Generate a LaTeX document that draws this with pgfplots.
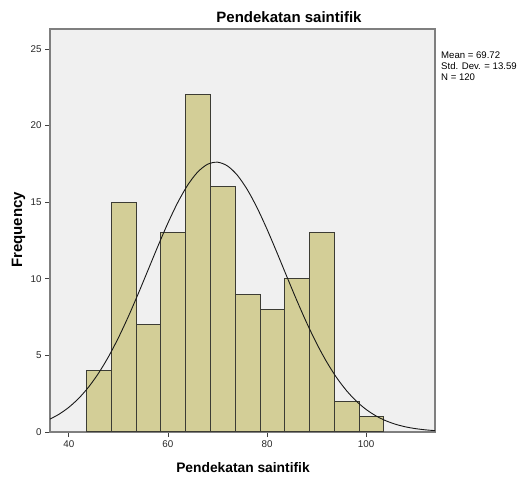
\documentclass[border=0pt]{standalone}
\usepackage{fontspec}
\setmainfont{Liberation Sans}
\usepackage{pgfplots}
\pgfplotsset{compat=1.18}

\definecolor{bgc}{HTML}{F0F0F0}
\definecolor{barc}{HTML}{D3CE97}
\definecolor{edgec}{HTML}{3C3C34}
\definecolor{framec}{HTML}{7F7F7F}

\begin{document}
\begin{tikzpicture}[x=1pt,y=1pt]
\path[use as bounding box] (0,0) rectangle (521,478);
\begin{axis}[
    at={(50pt,46pt)}, anchor=south west,
    scale only axis,
    width=385pt, height=403pt,
    xmin=36.2, xmax=113.9,
    ymin=0, ymax=26.3,
    axis background/.style={fill=bgc},
    axis line style={framec, line width=1.4pt},
    tick pos=left, tick align=outside,
    major tick length=5pt,
    tick style={black!75, line width=0.8pt},
    xtick={40,60,80,100},
    ytick={0,5,10,15,20,25},
    ticklabel style={font=\fontsize{9.8}{10}\selectfont, text=black!85},
    /pgf/number format/assume math mode=true,
    clip=true,
]
    % histogram, bins of width 5
    \addplot[ybar interval, fill=barc, draw=edgec, line width=1pt] coordinates {
        (43.6,4) (48.6,15) (53.6,7) (58.6,13) (63.6,22) (68.6,16)
        (73.6,9) (78.6,8) (83.6,10) (88.6,13) (93.6,2) (98.6,1) (103.6,0)
    };
    % normal curve, mean 69.72, sd 13.59, N = 120
    \addplot[black!90, line width=0.9pt, smooth] coordinates {
        (36,0.811) (38,1.156) (40,1.612) (42,2.200) (44,2.938) (46,3.840)
        (48,4.911) (50,6.146) (52,7.527) (54,9.021) (56,10.580) (58,12.143)
        (60,13.637) (62,14.988) (64,16.119) (66,16.964) (68,17.472) (70,17.608)
        (72,17.366) (74,16.760) (76,15.828) (78,14.629) (80,13.230) (82,11.709)
        (84,10.140) (86,8.594) (88,7.127) (90,5.784) (92,4.594) (94,3.570)
        (96,2.715) (98,2.020) (100,1.471) (102,1.049) (104,0.731) (106,0.499)
        (108,0.333) (110,0.218) (112,0.139) (114,0.087)
    };
\end{axis}
\node[anchor=base, font=\bfseries\fontsize{15}{16}\selectfont] at (289,455) {Pendekatan saintifik};
\node[anchor=base, font=\bfseries\fontsize{13.8}{15}\selectfont] at (243,5) {Pendekatan saintifik};
\node[anchor=base, rotate=90, font=\bfseries\fontsize{15}{16}\selectfont] at (22,248) {Frequency};
\node[anchor=north west, align=left, inner sep=0pt, font=\fontsize{9.6}{11}\selectfont] at (441,426)
    {Mean = 69.72\\Std. Dev. = 13.59\\N = 120};
\end{tikzpicture}
\end{document}
